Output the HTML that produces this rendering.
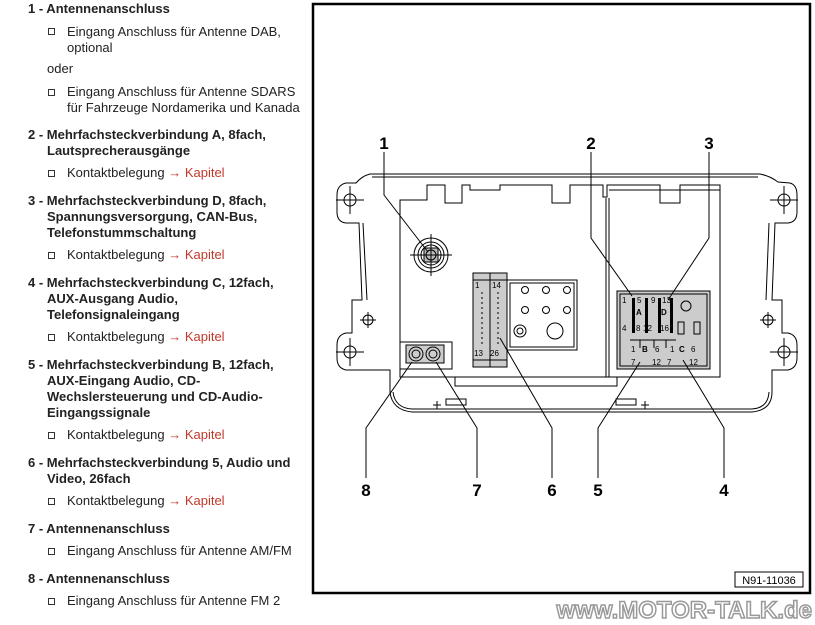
<!DOCTYPE html>
<html><head><meta charset="utf-8"><style>
body{margin:0;width:815px;height:625px;background:#fff;position:relative;overflow:hidden;font-family:"Liberation Sans",Arial,sans-serif;font-size:13px;color:#222}
.t{position:absolute;white-space:nowrap;line-height:16px}
.b{font-weight:bold}
.sq{position:absolute;width:5px;height:5px;border:1px solid #333}
.r{color:#c0392b}
</style></head><body>
<div class="t b" style="left:28px;top:1px">1 - Antennenanschluss</div>
<div class="sq" style="left:48px;top:28px"></div><div class="t" style="left:67px;top:24px">Eingang Anschluss für Antenne DAB,<br>optional</div>
<div class="t" style="left:47px;top:61px">oder</div>
<div class="sq" style="left:48px;top:89px"></div><div class="t" style="left:67px;top:84px">Eingang Anschluss für Antenne SDARS<br>für Fahrzeuge Nordamerika und Kanada</div>
<div class="t b" style="left:28px;top:127px">2 - Mehrfachsteckverbindung A, 8fach,<br><span style="padding-left:19px">Lautsprecherausgänge</span></div>
<div class="sq" style="left:48px;top:170px"></div><div class="t" style="left:67px;top:165px">Kontaktbelegung <span class="r">→ Kapitel</span></div>
<div class="t b" style="left:28px;top:193px">3 - Mehrfachsteckverbindung D, 8fach,<br><span style="padding-left:19px">Spannungsversorgung, CAN-Bus,</span><br><span style="padding-left:19px">Telefonstummschaltung</span></div>
<div class="sq" style="left:48px;top:252px"></div><div class="t" style="left:67px;top:247px">Kontaktbelegung <span class="r">→ Kapitel</span></div>
<div class="t b" style="left:28px;top:275px">4 - Mehrfachsteckverbindung C, 12fach,<br><span style="padding-left:19px">AUX-Ausgang Audio,</span><br><span style="padding-left:19px">Telefonsignaleingang</span></div>
<div class="sq" style="left:48px;top:334px"></div><div class="t" style="left:67px;top:329px">Kontaktbelegung <span class="r">→ Kapitel</span></div>
<div class="t b" style="left:28px;top:357px">5 - Mehrfachsteckverbindung B, 12fach,<br><span style="padding-left:19px">AUX-Eingang Audio, CD-</span><br><span style="padding-left:19px">Wechslersteuerung und CD-Audio-</span><br><span style="padding-left:19px">Eingangssignale</span></div>
<div class="sq" style="left:48px;top:432px"></div><div class="t" style="left:67px;top:427px">Kontaktbelegung <span class="r">→ Kapitel</span></div>
<div class="t b" style="left:28px;top:455px">6 - Mehrfachsteckverbindung 5, Audio und<br><span style="padding-left:19px">Video, 26fach</span></div>
<div class="sq" style="left:48px;top:498px"></div><div class="t" style="left:67px;top:493px">Kontaktbelegung <span class="r">→ Kapitel</span></div>
<div class="t b" style="left:28px;top:521px">7 - Antennenanschluss</div>
<div class="sq" style="left:48px;top:548px"></div><div class="t" style="left:67px;top:543px">Eingang Anschluss für Antenne AM/FM</div>
<div class="t b" style="left:28px;top:571px">8 - Antennenanschluss</div>
<div class="sq" style="left:48px;top:598px"></div><div class="t" style="left:67px;top:593px">Eingang Anschluss für Antenne FM 2</div>

<svg style="position:absolute;left:0;top:0" width="815" height="625" viewBox="0 0 815 625">
<rect x="313" y="4" width="497" height="589" fill="none" stroke="#000" stroke-width="2.5"/>
<g fill="none" stroke="#000" stroke-width="1">
<path d="M370,174 L760,174 Q770,176 778,182 L790,183 Q797,185 797,195 L797,212 Q797,222 788,223 L775,223 L772,300 L782,300 L782,333 L788,333 Q797,335 797,345 L797,358 Q797,368 788,370 L772,370 L772,392 Q772,410 752,412 L412,412 Q392,410 390,392 L390,370 L346,370 Q337,368 337,358 L337,345 Q337,335 346,333 L352,333 L352,300 L362,300 L359,223 L346,223 Q337,222 337,212 L337,195 Q337,185 346,183 L356,183 Q362,176 370,174 Z"/>
<path d="M372,177 L758,177"/>
<path d="M393,392 Q395,408 412,409 L752,409 Q768,408 769,392"/>
<path d="M363,223 L367,300 M769,223 L766,300"/>
<circle cx="350" cy="200" r="6"/><path d="M336,200h28M350,186v28"/>
<circle cx="350" cy="352" r="6"/><path d="M336,352h28M350,338v28"/>
<circle cx="784" cy="200" r="6"/><path d="M770,200h28M784,186v28"/>
<circle cx="784" cy="352" r="6"/><path d="M770,352h28M784,338v28"/>
<circle cx="368" cy="320" r="5"/><path d="M360,320h16M368,312v16"/>
<circle cx="768" cy="320" r="5"/><path d="M760,320h16M768,312v16"/>
<path d="M400,377 L400,200 L427,200 L427,185 L445,185 L445,203 L462,203 L462,185 L470,185 L470,190 L500,190 L500,185 L552,185 L552,203 L570,203 L570,185 L603,185 L603,197 L607,197 L607,185 L660,185 L660,203 L680,203 L680,185 L720,185 L720,377 Z"/>
<path d="M606,198 L606,377 M609,198 L609,377 M609,190 L720,190"/>
<path d="M455,377 L455,386 L617,386 L617,377"/>
<circle cx="431" cy="255" r="17"/><circle cx="431" cy="255" r="13"/><circle cx="431" cy="255" r="10"/>
<rect x="424" y="248" width="14" height="14" fill="#bbb"/><circle cx="431" cy="255" r="5"/>
<path d="M410,255h42M431,234v42"/>
<rect x="400" y="342" width="52" height="27"/>
<rect x="406" y="345" width="38" height="18" fill="#ccc"/>
<circle cx="416" cy="354" r="7"/><circle cx="416" cy="354" r="4"/><circle cx="433" cy="354" r="7"/><circle cx="433" cy="354" r="4"/>
<rect x="473" y="273" width="34" height="94" fill="#ccc"/>
<path d="M490,273v94M473,280h34M473,360h34"/>
<path d="M482,292v55M498,292v55" stroke-dasharray="2 3"/>
<rect x="507" y="280" width="70" height="70"/><rect x="510" y="283" width="64" height="64"/>
<circle cx="525" cy="290" r="3.5"/><circle cx="546" cy="290" r="3.5"/><circle cx="567" cy="290" r="3.5"/>
<circle cx="525" cy="310" r="3.5"/><circle cx="546" cy="310" r="3.5"/><circle cx="567" cy="310" r="3.5"/>
<circle cx="520" cy="331" r="6"/><circle cx="520" cy="331" r="3"/><circle cx="555" cy="331" r="8"/>
<rect x="617" y="291" width="93" height="78" fill="#ccc"/><rect x="620" y="294" width="87" height="72"/>
<path d="M630,340h46M640,340v8M654,340v8M666,340v8"/>
<rect x="678" y="322" width="6" height="12"/><rect x="694" y="322" width="6" height="12"/>
<circle cx="686" cy="306" r="5"/>
<path d="M384,152V195L428,252M591,152V238L632,296M709,152V238L668,300M366,478V428L412,362M477,478V428L436,362M552,478V428L500,338M598,478V428L640,362M724,478V428L683,360"/>
<path d="M433,405h8M437,401v8M446,399h20v6h-20zM616,399h20v6h-20zM641,405h8M645,401v8"/>
</g>
<g fill="#000">
<rect x="632" y="298" width="3" height="35"/><rect x="645" y="298" width="3" height="35"/><rect x="658" y="298" width="3" height="35"/><rect x="670" y="298" width="3" height="35"/>
</g>
<g font-family="Liberation Sans,Arial,sans-serif" font-size="8" fill="#000">
<text x="475" y="288">1</text><text x="492" y="288">14</text><text x="474" y="356">13</text><text x="490" y="356">26</text>
<text x="622" y="303">1</text><text x="637" y="303">5</text><text x="651" y="303">9</text><text x="662" y="303">13</text>
<text x="636" y="315" font-weight="bold">A</text><text x="661" y="315" font-weight="bold">D</text>
<text x="622" y="331">4</text><text x="636" y="331">8</text><text x="643" y="331">12</text><text x="660" y="331">16</text>
<text x="631" y="352">1</text><text x="642" y="352" font-weight="bold">B</text><text x="655" y="352">6</text><text x="670" y="352">1</text><text x="679" y="352" font-weight="bold">C</text><text x="691" y="352">6</text>
<text x="631" y="365">7</text><text x="652" y="365">12</text><text x="667" y="365">7</text><text x="689" y="365">12</text>
</g>
<g font-family="Liberation Sans,Arial,sans-serif" font-size="17" font-weight="bold" fill="#000" text-anchor="middle">
<text x="384" y="149">1</text><text x="591" y="149">2</text><text x="709" y="149">3</text>
<text x="366" y="496">8</text><text x="477" y="496">7</text><text x="552" y="496">6</text><text x="598" y="496">5</text><text x="724" y="496">4</text>
</g>
<rect x="735" y="572" width="68" height="15" fill="#fff" stroke="#000"/>
<text x="769" y="584" font-family="Liberation Sans,Arial,sans-serif" font-size="11" text-anchor="middle">N91-11036</text>
<text x="812" y="618" font-family="Liberation Sans,Arial,sans-serif" font-size="24" font-weight="bold" fill="#fff" stroke="#999" stroke-width="1.5" text-anchor="end">www.MOTOR-TALK.de</text>
</svg>
</body></html>
